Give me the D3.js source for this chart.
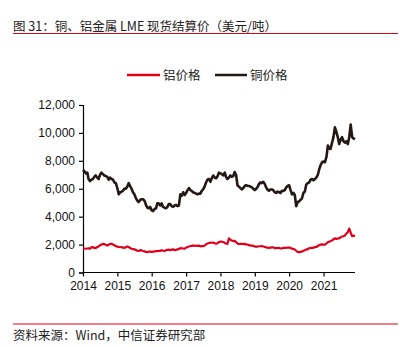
<!DOCTYPE html>
<html><head><meta charset="utf-8">
<script src="https://cdn.jsdelivr.net/npm/d3@7/dist/d3.min.js"></script>
<style>body{margin:0;background:#fff}svg{display:block}</style>
</head><body>
<script>
// Semi-monthly observations (1st and 16th of each month), Jan 2014 - Dec 2021
const startMonth = "2014-01";
const copper = [
 7350,7250, 7100,7150, 6700,6550, 6650,6700, 6850,6950, 6800,6700, 7000,7150, 7050,6950, 6900,6850, 6650,6800, 6700,6650, 6450,6400,
 6050,5600, 5750,5800, 5850,6000, 6000,6150, 6400,6200, 6000,5750, 5600,5350, 5150,5050, 5200,5250, 5250,5150, 4850,4650, 4600,4700,
 4450,4400, 4550,4600, 4950,4950, 4800,4950, 4700,4650, 4600,4700, 4900,4900, 4750,4700, 4800,4850, 4750,4800, 5600,5500, 5750,5550,
 5700,5900, 6050,5900, 5850,5750, 5700,5650, 5600,5650, 5650,5850, 5950,6150, 6450,6650, 6700,6500, 6750,6950, 6800,6750, 6900,7150,
 7100,7050, 6950,7150, 6850,6700, 6800,6950, 6850,6900, 7200,7000, 6250,6150, 6050,5950, 6050,6200, 6250,6200, 6200,6150, 6100,6000,
 5900,6000, 6150,6350, 6450,6400, 6500,6350, 6100,5950, 5850,5950, 5950,5900, 5750,5700, 5800,5750, 5700,5850, 5850,5900, 6100,6200,
 6250,5900, 5600,5700, 5550,4750, 5050,5100, 5200,5300, 5700,5800, 6300,6400, 6450,6650, 6700,6600, 6700,6800, 7000,7400, 7700,7900,
 7950,7900, 8300,9100, 8900,8850, 9300,9700, 10400,10100, 9700,9200, 9500,9700, 9400,9300, 9400,9200, 9700,10600, 9700,9600, 9550
];
const aluminum = [
 1750,1720, 1700,1720, 1730,1700, 1800,1820, 1760,1750, 1830,1870, 1950,2000, 2050,2030, 1980,1930, 1990,2050, 2060,2000, 1950,1900,
 1850,1830, 1810,1820, 1780,1770, 1800,1870, 1830,1750, 1700,1680, 1660,1620, 1560,1540, 1600,1580, 1540,1510, 1480,1460, 1490,1500,
 1480,1500, 1510,1530, 1530,1550, 1540,1600, 1560,1540, 1590,1620, 1640,1600, 1640,1660, 1600,1620, 1660,1690, 1740,1730, 1720,1710,
 1780,1830, 1860,1900, 1910,1940, 1900,1930, 1910,1930, 1870,1900, 1890,1920, 2020,2080, 2110,2140, 2130,2140, 2100,2070, 2100,2180,
 2220,2200, 2180,2120, 2080,2050, 2450,2350, 2300,2250, 2260,2180, 2080,2040, 2050,2060, 2030,2050, 2020,2000, 1950,1940, 1920,1910,
 1860,1850, 1860,1880, 1880,1900, 1860,1840, 1800,1780, 1760,1780, 1800,1800, 1750,1740, 1770,1760, 1730,1720, 1770,1760, 1770,1790,
 1780,1760, 1700,1690, 1650,1560, 1470,1460, 1480,1500, 1560,1600, 1650,1660, 1740,1760, 1760,1770, 1820,1830, 1900,1960, 2000,2020,
 2000,2000, 2080,2180, 2200,2250, 2300,2380, 2450,2400, 2440,2450, 2520,2580, 2600,2650, 2800,2900, 3150,2850, 2600,2650, 2600
];
const yTicks = [0,2000,4000,6000,8000,10000,12000];
const xTickYears = [2014,2015,2016,2017,2018,2019,2020,2021];
const seriesNames = ["铝价格","铜价格"];
const seriesColors = ["#e0001b","#231815"];

const W=400,H=347;
const svg=d3.select("body").append("svg").attr("width",W).attr("height",H);
const font="Liberation Sans, Arial, 'Noto Sans CJK SC', sans-serif";
const cjk="'Noto Sans CJK SC', sans-serif";

const t0=d3.timeParse("%Y-%m")(startMonth);
const n=Math.min(copper.length,aluminum.length);
const dates=d3.range(n).map(i=>{const m=d3.timeMonth.offset(t0,Math.floor(i/2));return i%2?d3.timeDay.offset(m,15):m;});
const x=d3.scaleTime().domain([t0,dates[n-1]]).range([83,355]);
const y=d3.scaleLinear().domain([0,12000]).range([272.5,105]);

// title
svg.append("text").attr("x",13).attr("y",30.5).attr("font-family",cjk).attr("font-size",12.5).attr("fill","#222")
  .text("图 31：铜、铝金属 LME 现货结算价（美元/吨）");
svg.append("line").attr("x1",13).attr("x2",398).attr("y1",33.5).attr("y2",33.5).attr("stroke","#e0001b").attr("stroke-width",1.2);

// footer
svg.append("line").attr("x1",13).attr("x2",398).attr("y1",324).attr("y2",324).attr("stroke","#e0001b").attr("stroke-width",1);
svg.append("text").attr("x",13).attr("y",340).attr("font-family",cjk).attr("font-size",12.5).attr("fill","#222")
  .text("资料来源：Wind，中信证券研究部");

// legend
const lg=[[127,160,163],[215,247,250]];
seriesNames.forEach((nm,i)=>{
  svg.append("line").attr("x1",lg[i][0]).attr("x2",lg[i][1]).attr("y1",75).attr("y2",75).attr("stroke",seriesColors[i]).attr("stroke-width",2.5);
  svg.append("text").attr("x",lg[i][2]).attr("y",79.5).attr("font-family",cjk).attr("font-size",12.5).attr("fill","#222").text(nm);
});

// axes
const yAxis=d3.axisLeft(y).tickValues(yTicks).tickSize(4).tickPadding(4).tickFormat(d3.format(","));
const gy=svg.append("g").attr("transform","translate(83,0)").call(yAxis);
const xAxis=d3.axisBottom(x).tickValues(xTickYears.map(v=>new Date(v,0,1))).tickSize(4).tickPadding(5).tickFormat(d3.timeFormat("%Y"));
const gx=svg.append("g").attr("transform","translate(0,272.5)").call(xAxis);
[gx,gy].forEach(g=>{
  g.select(".domain").attr("stroke","#000").attr("stroke-width",1.2);
  g.selectAll(".tick line").attr("stroke","#000").attr("stroke-width",1.2);
  g.selectAll("text").attr("font-family",font).attr("font-size",12).attr("fill","#111");
});
gx.select(".domain").attr("d","M83,0H355");

// lines
const line=d3.line().x((d,i)=>x(dates[i])).y(d=>y(d));
[aluminum,copper].forEach((s,i)=>{
  svg.append("path").datum(s.slice(0,n)).attr("d",line).attr("fill","none")
    .attr("stroke",seriesColors[i]).attr("stroke-width",i===1?2.6:2.2).attr("stroke-linejoin","round");
});
</script>
</body></html>
